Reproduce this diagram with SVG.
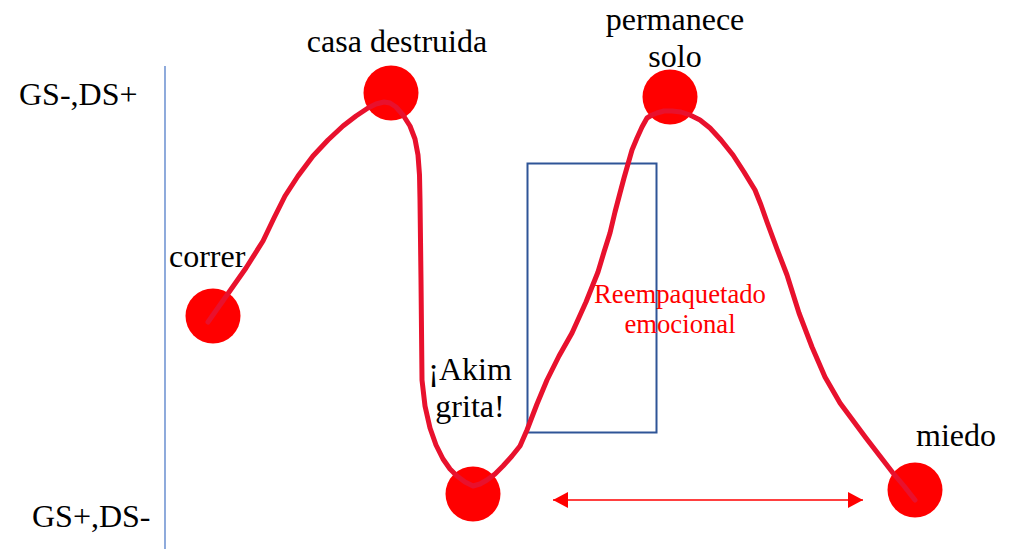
<svg xmlns="http://www.w3.org/2000/svg" width="1020" height="549" viewBox="0 0 1020 549">
<style>
.lbl{font-size:32px;fill:#000}
.mid{text-anchor:middle}
.red{font-size:26.7px;fill:#FF0000;text-anchor:middle}
.dot{fill:#FF0000}
.curve{fill:none;stroke:#E8112D;stroke-width:5;stroke-linejoin:round;stroke-linecap:round}
</style>
<defs>
<marker id="ah" viewBox="0 0 15 16" refX="15" refY="8" markerWidth="15" markerHeight="16" markerUnits="userSpaceOnUse" orient="auto-start-reverse">
<path d="M0,0 L15,8 L0,16 Z" fill="#FF0000"/>
</marker>
</defs>
<rect width="1020" height="549" fill="#fff"/>
<g font-family="'Liberation Serif', Tinos, 'Times New Roman', 'DejaVu Serif', serif">
<g id="axis">
<line x1="165" y1="66" x2="165" y2="549" stroke="#4472C4" stroke-width="1.2"/>
<text class="lbl" x="19" y="105">GS-,DS+</text>
<text class="lbl" x="32" y="527">GS+,DS-</text>
</g>
<g id="box">
<rect x="527.5" y="163.5" width="129" height="269" fill="none" stroke="#2F5597" stroke-width="2"/>
<text class="red" x="680" y="303">Reempaquetado</text>
<text class="red" x="680" y="333">emocional</text>
</g>
<g id="correr">
<circle class="dot" cx="213" cy="316" r="27.5"/>
<text class="lbl" x="169" y="267">correr</text>
</g>
<g id="casa">
<circle class="dot" cx="391" cy="93" r="27.5"/>
<text class="lbl mid" x="397" y="52">casa destruida</text>
</g>
<g id="akim">
<circle class="dot" cx="473" cy="494" r="27.5"/>
<text class="lbl mid" x="470" y="380">¡Akim</text>
<text class="lbl mid" x="470" y="417">grita!</text>
</g>
<g id="permanece">
<circle class="dot" cx="670" cy="97" r="27.5"/>
<text class="lbl mid" x="675" y="30">permanece</text>
<text class="lbl mid" x="675" y="67">solo</text>
</g>
<g id="miedo">
<circle class="dot" cx="915" cy="490" r="27.5"/>
<text class="lbl" x="916" y="446">miedo</text>
</g>
</g>
<g id="connectors">
<polyline class="curve" points="208,322 227,295 246,268 263,241 274,218 285,196 298,176 313,156 328,140 343,126 356,116 368,108 376,104 384,102 390,103 396,107 403,115 410,126 415,139 418,155 419.5,175 420,200 420.5,240 421,280 421.5,330 422,380 425,406 430,428 436,445 443,459 450,469 457,476 465,482 473,486 480,484 487,480 495,474 503,466 512,456 520,446 527,430 537,404 547,380 559,356 572,333 586,302 598,272 604,252 610,233 615,212 620,193 624,178 628,164 632,150 637,138 642,127 647,118 652,115 657,113 664,111 672,111 681,112 690,115 700,120 710,128 721,140 733,155 744,172 755,190 761,205 767,222 777,249 787,275 799,313 812,347 825,377 840,403 866,438 893,473 904,486 915,500"/>
<line x1="553" y1="500" x2="863" y2="500" stroke="#FF0000" stroke-width="1.6" marker-start="url(#ah)" marker-end="url(#ah)"/>
</g>
</svg>
